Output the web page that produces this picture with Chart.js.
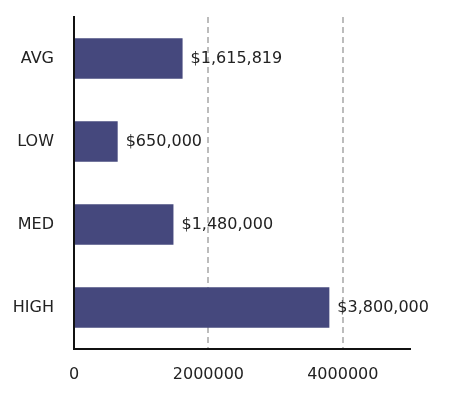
<!DOCTYPE html>
<html><head><meta charset="utf-8">
<script src="https://cdn.jsdelivr.net/npm/chart.js@4"></script>
<style>html,body{margin:0;padding:0;background:#fff}#wrap{width:464px;height:395px}</style>
</head><body><div id="wrap"><canvas id="c"></canvas></div>
<script>
const categories = ["AVG", "LOW", "MED", "HIGH"];
const values = [1615819, 650000, 1480000, 3800000];
const valueLabels = ["$1,615,819", "$650,000", "$1,480,000", "$3,800,000"];
const xTicks = [0, 2000000, 4000000];

const FONT = "'DejaVu Sans', sans-serif";
const labelPlugin = {
  id: 'valueLabels',
  afterDatasetsDraw(chart) {
    const ctx = chart.ctx;
    const meta = chart.getDatasetMeta(0);
    ctx.save();
    ctx.font = "16px " + FONT;
    ctx.fillStyle = "#222";
    ctx.textAlign = "left";
    ctx.textBaseline = "middle";
    meta.data.forEach((bar, i) => {
      ctx.fillText(valueLabels[i], bar.x + 8, bar.y);
    });
    ctx.restore();
  }
};

new Chart(document.getElementById('c'), {
  type: 'bar',
  data: {
    labels: categories,
    datasets: [{
      data: values,
      backgroundColor: '#45487d',
      categoryPercentage: 1,
      barPercentage: 0.49
    }]
  },
  options: {
    indexAxis: 'y',
    responsive: true,
    maintainAspectRatio: false,
    animation: false,
    layout: { padding: { top: 17, right: 54, left: 0, bottom: 0 } },
    plugins: { legend: { display: false }, tooltip: { enabled: false } },
    scales: {
      x: {
        min: 0, max: 5000000,
        afterBuildTicks(scale) { scale.ticks = xTicks.map(v => ({ value: v })); },
        afterFit(scale) { scale.height = 46; scale.paddingLeft = 0; scale.paddingRight = 0; },
        border: { display: true, color: '#111', width: 2, dash: [6, 4] },
        grid: {
          drawTicks: false,
          color: (c) => (c.tick && c.tick.value === 0) ? 'rgba(0,0,0,0)' : '#bcbcbc',
          lineWidth: 2
        },
        ticks: {
          color: '#222', font: { size: 16, family: FONT }, padding: 16,
          callback: (v) => String(v)
        }
      },
      y: {
        afterFit(scale) { scale.width = 74; scale.paddingTop = 0; scale.paddingBottom = 0; },
        border: { display: true, color: '#111', width: 2 },
        grid: { display: false, drawTicks: false },
        ticks: { color: '#222', font: { size: 16, family: FONT }, padding: 20 }
      }
    }
  },
  plugins: [labelPlugin]
});
</script>
</body></html>
